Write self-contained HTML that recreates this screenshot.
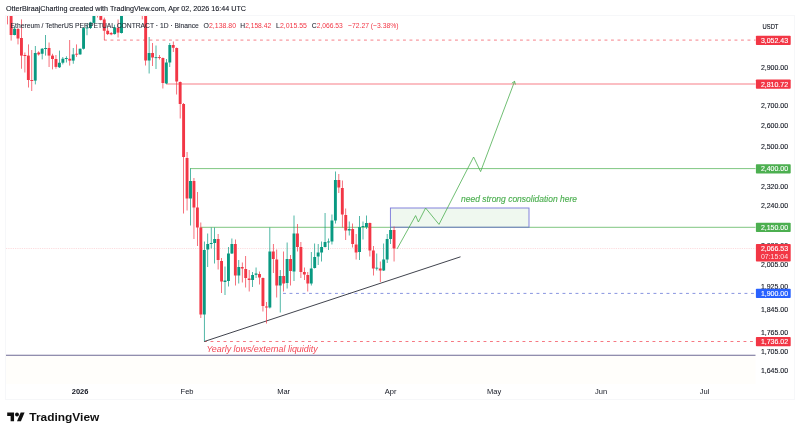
<!DOCTYPE html>
<html><head><meta charset="utf-8"><title>ETHUSDT chart</title>
<style>
html,body{margin:0;padding:0;background:#fff;}
body{width:800px;height:435px;overflow:hidden;font-family:"Liberation Sans",sans-serif;}
svg{display:block;will-change:transform;}
text{font-family:"Liberation Sans",sans-serif;}
</style></head><body>
<svg width="800" height="435" viewBox="0 0 800 435">
<defs><clipPath id="pane"><rect x="6" y="16" width="749.5" height="368"/></clipPath></defs>
<rect x="0" y="0" width="800" height="435" fill="#ffffff"/>

<rect x="5.5" y="15.5" width="789" height="384" fill="none" stroke="#f6f7f9" stroke-width="1"/>
<rect x="6" y="355.5" width="749.5" height="28.5" fill="#fffefb"/>
<g clip-path="url(#pane)">
<line x1="104" y1="40.1" x2="756" y2="40.1" stroke="#f23645" stroke-opacity="0.7" stroke-width="0.9" stroke-dasharray="2.900 3.600"/>
<line x1="166" y1="84.0" x2="756" y2="84.0" stroke="#f23645" stroke-opacity="0.68" stroke-width="0.95"/>
<line x1="190" y1="168.6" x2="756" y2="168.6" stroke="#4caf50" stroke-opacity="0.9" stroke-width="0.8"/>
<line x1="200.5" y1="227.3" x2="756" y2="227.3" stroke="#4caf50" stroke-opacity="0.9" stroke-width="0.8"/>
<line x1="283" y1="293.4" x2="756" y2="293.4" stroke="#4d5fd0" stroke-opacity="0.8" stroke-width="0.85" stroke-dasharray="2.9 3.6"/>
<line x1="204" y1="341.5" x2="756" y2="341.5" stroke="#f23645" stroke-opacity="0.75" stroke-width="0.9" stroke-dasharray="2.900 3.600"/>
<line x1="6" y1="355.25" x2="756" y2="355.25" stroke="#6e6a94" stroke-width="1"/>
<line x1="6" y1="248.5" x2="756" y2="248.5" stroke="#f23645" stroke-opacity="0.35" stroke-width="0.6" stroke-dasharray="0.8 1"/>
<rect x="390.4" y="208" width="138.6" height="19.2" fill="#4caf50" fill-opacity="0.09" stroke="#6a68d6" stroke-opacity="0.9" stroke-width="0.9"/>
<line x1="204.3" y1="341.5" x2="460.5" y2="256.8" stroke="#2a2e39" stroke-width="0.9"/>
<rect x="7.30" y="8" width="0.7" height="16.40" fill="#f23645"/>
<rect x="6.20" y="8" width="2.9" height="1.00" fill="#f23645"/>
<rect x="10.75" y="8" width="0.7" height="32.60" fill="#f23645"/>
<rect x="9.65" y="8" width="2.9" height="27.00" fill="#f23645"/>
<rect x="14.20" y="26" width="0.7" height="9.30" fill="#089981"/>
<rect x="13.10" y="28.75" width="2.9" height="6.25" fill="#089981"/>
<rect x="17.65" y="28" width="0.7" height="16.40" fill="#f23645"/>
<rect x="16.55" y="29" width="2.9" height="9.50" fill="#f23645"/>
<rect x="21.10" y="19.4" width="0.7" height="49.35" fill="#f23645"/>
<rect x="20.00" y="38" width="2.9" height="17.60" fill="#f23645"/>
<rect x="24.55" y="52.5" width="0.7" height="20.00" fill="#f23645"/>
<rect x="23.45" y="55" width="2.9" height="1.00" fill="#f23645"/>
<rect x="28.00" y="44.4" width="0.7" height="43.10" fill="#f23645"/>
<rect x="26.90" y="55.6" width="2.9" height="24.40" fill="#f23645"/>
<rect x="31.45" y="50" width="0.7" height="41.00" fill="#f23645"/>
<rect x="30.35" y="80" width="2.9" height="1.00" fill="#f23645"/>
<rect x="34.90" y="46" width="0.7" height="38.40" fill="#089981"/>
<rect x="33.80" y="53" width="2.9" height="27.60" fill="#089981"/>
<rect x="38.35" y="51.25" width="0.7" height="4.35" fill="#f23645"/>
<rect x="37.25" y="52.5" width="2.9" height="1.90" fill="#f23645"/>
<rect x="41.80" y="48" width="0.7" height="11.40" fill="#089981"/>
<rect x="40.70" y="48.75" width="2.9" height="5.00" fill="#089981"/>
<rect x="45.25" y="35" width="0.7" height="20.60" fill="#089981"/>
<rect x="44.15" y="48" width="2.9" height="1.00" fill="#089981"/>
<rect x="48.70" y="42.5" width="0.7" height="24.50" fill="#f23645"/>
<rect x="47.60" y="48" width="2.9" height="7.60" fill="#f23645"/>
<rect x="52.15" y="53.75" width="0.7" height="15.65" fill="#f23645"/>
<rect x="51.05" y="55.6" width="2.9" height="3.40" fill="#f23645"/>
<rect x="55.60" y="55" width="0.7" height="13.75" fill="#f23645"/>
<rect x="54.50" y="59" width="2.9" height="7.90" fill="#f23645"/>
<rect x="59.05" y="50.6" width="0.7" height="17.40" fill="#089981"/>
<rect x="57.95" y="62.75" width="2.9" height="4.50" fill="#089981"/>
<rect x="62.50" y="57" width="0.7" height="7.40" fill="#089981"/>
<rect x="61.40" y="58.75" width="2.9" height="4.00" fill="#089981"/>
<rect x="65.95" y="56.25" width="0.7" height="6.25" fill="#089981"/>
<rect x="64.85" y="58" width="2.9" height="1.00" fill="#089981"/>
<rect x="69.40" y="40" width="0.7" height="25.60" fill="#f23645"/>
<rect x="68.30" y="58.75" width="2.9" height="1.85" fill="#f23645"/>
<rect x="72.85" y="48" width="0.7" height="15.75" fill="#089981"/>
<rect x="71.75" y="54.4" width="2.9" height="6.20" fill="#089981"/>
<rect x="76.30" y="44.4" width="0.7" height="12.50" fill="#f23645"/>
<rect x="75.20" y="53.75" width="2.9" height="0.90" fill="#f23645"/>
<rect x="79.75" y="48.5" width="0.7" height="6.25" fill="#089981"/>
<rect x="78.65" y="48.75" width="2.9" height="5.65" fill="#089981"/>
<rect x="83.20" y="27" width="0.7" height="22.50" fill="#089981"/>
<rect x="82.10" y="28.1" width="2.9" height="20.65" fill="#089981"/>
<rect x="86.65" y="24" width="0.7" height="11.25" fill="#089981"/>
<rect x="85.55" y="27.5" width="2.9" height="0.90" fill="#089981"/>
<rect x="90.10" y="21.75" width="0.7" height="7.25" fill="#089981"/>
<rect x="89.00" y="22.5" width="2.9" height="5.50" fill="#089981"/>
<rect x="93.55" y="8" width="0.7" height="15.50" fill="#089981"/>
<rect x="92.45" y="8" width="2.9" height="14.90" fill="#089981"/>
<rect x="97.00" y="8" width="0.7" height="9.50" fill="#f23645"/>
<rect x="95.90" y="8" width="2.9" height="1.00" fill="#f23645"/>
<rect x="100.45" y="8" width="0.7" height="12.50" fill="#f23645"/>
<rect x="99.35" y="8" width="2.9" height="11.90" fill="#f23645"/>
<rect x="103.90" y="17.6" width="0.7" height="22.50" fill="#f23645"/>
<rect x="102.80" y="19.5" width="2.9" height="11.25" fill="#f23645"/>
<rect x="107.35" y="28" width="0.7" height="7.00" fill="#f23645"/>
<rect x="106.25" y="30.75" width="2.9" height="3.35" fill="#f23645"/>
<rect x="110.80" y="32" width="0.7" height="3.25" fill="#f23645"/>
<rect x="109.70" y="33" width="2.9" height="1.40" fill="#f23645"/>
<rect x="114.25" y="24.75" width="0.7" height="9.75" fill="#089981"/>
<rect x="113.15" y="27.4" width="2.9" height="6.70" fill="#089981"/>
<rect x="117.70" y="19.5" width="0.7" height="18.00" fill="#f23645"/>
<rect x="116.60" y="27.75" width="2.9" height="4.85" fill="#f23645"/>
<rect x="121.15" y="8" width="0.7" height="25.50" fill="#089981"/>
<rect x="120.05" y="8" width="2.9" height="25.00" fill="#089981"/>
<rect x="141.85" y="8" width="0.7" height="11.40" fill="#f23645"/>
<rect x="140.75" y="8" width="2.9" height="1.00" fill="#f23645"/>
<rect x="145.30" y="8" width="0.7" height="57.50" fill="#f23645"/>
<rect x="144.20" y="8" width="2.9" height="52.50" fill="#f23645"/>
<rect x="148.75" y="37" width="0.7" height="36.50" fill="#089981"/>
<rect x="147.65" y="53" width="2.9" height="7.50" fill="#089981"/>
<rect x="152.20" y="43" width="0.7" height="23.00" fill="#f23645"/>
<rect x="151.10" y="53" width="2.9" height="4.50" fill="#f23645"/>
<rect x="155.65" y="45.5" width="0.7" height="23.50" fill="#089981"/>
<rect x="154.55" y="57.2" width="2.9" height="0.90" fill="#089981"/>
<rect x="159.10" y="55" width="0.7" height="4.50" fill="#f23645"/>
<rect x="158.00" y="57" width="2.9" height="0.90" fill="#f23645"/>
<rect x="162.55" y="57.5" width="0.7" height="31.00" fill="#f23645"/>
<rect x="161.45" y="58" width="2.9" height="25.00" fill="#f23645"/>
<rect x="166.00" y="59" width="0.7" height="25.00" fill="#089981"/>
<rect x="164.90" y="62.5" width="2.9" height="21.00" fill="#089981"/>
<rect x="169.45" y="43" width="0.7" height="24.00" fill="#089981"/>
<rect x="168.35" y="45" width="2.9" height="17.50" fill="#089981"/>
<rect x="172.90" y="41.5" width="0.7" height="10.50" fill="#f23645"/>
<rect x="171.80" y="45" width="2.9" height="2.80" fill="#f23645"/>
<rect x="176.35" y="47.5" width="0.7" height="47.00" fill="#f23645"/>
<rect x="175.25" y="48" width="2.9" height="33.50" fill="#f23645"/>
<rect x="179.80" y="81.5" width="0.7" height="37.00" fill="#f23645"/>
<rect x="178.70" y="82" width="2.9" height="22.00" fill="#f23645"/>
<rect x="183.25" y="103" width="0.7" height="110.50" fill="#f23645"/>
<rect x="182.15" y="104" width="2.9" height="53.00" fill="#f23645"/>
<rect x="186.70" y="152" width="0.7" height="58.50" fill="#f23645"/>
<rect x="185.60" y="158" width="2.9" height="40.50" fill="#f23645"/>
<rect x="190.15" y="168.5" width="0.7" height="57.00" fill="#089981"/>
<rect x="189.05" y="181" width="2.9" height="17.50" fill="#089981"/>
<rect x="193.60" y="178" width="0.7" height="61.00" fill="#f23645"/>
<rect x="192.50" y="181" width="2.9" height="26.50" fill="#f23645"/>
<rect x="197.05" y="192" width="0.7" height="54.00" fill="#f23645"/>
<rect x="195.95" y="207.5" width="2.9" height="20.00" fill="#f23645"/>
<rect x="200.50" y="222.5" width="0.7" height="95.50" fill="#f23645"/>
<rect x="199.40" y="227.5" width="2.9" height="87.00" fill="#f23645"/>
<rect x="203.95" y="241.5" width="0.7" height="100.00" fill="#089981"/>
<rect x="202.85" y="250" width="2.9" height="64.50" fill="#089981"/>
<rect x="207.40" y="233.5" width="0.7" height="33.50" fill="#089981"/>
<rect x="206.30" y="244" width="2.9" height="5.50" fill="#089981"/>
<rect x="210.85" y="227.5" width="0.7" height="21.00" fill="#089981"/>
<rect x="209.75" y="243" width="2.9" height="1.00" fill="#089981"/>
<rect x="214.30" y="227.5" width="0.7" height="36.00" fill="#089981"/>
<rect x="213.20" y="239" width="2.9" height="4.00" fill="#089981"/>
<rect x="217.75" y="234" width="0.7" height="35.50" fill="#f23645"/>
<rect x="216.65" y="239" width="2.9" height="21.00" fill="#f23645"/>
<rect x="221.20" y="258" width="0.7" height="35.00" fill="#f23645"/>
<rect x="220.10" y="261" width="2.9" height="20.50" fill="#f23645"/>
<rect x="224.65" y="266.5" width="0.7" height="28.50" fill="#089981"/>
<rect x="223.55" y="280.5" width="2.9" height="1.50" fill="#089981"/>
<rect x="228.10" y="247" width="0.7" height="39.50" fill="#089981"/>
<rect x="227.00" y="253.5" width="2.9" height="27.50" fill="#089981"/>
<rect x="231.55" y="238.5" width="0.7" height="15.50" fill="#089981"/>
<rect x="230.45" y="244" width="2.9" height="9.50" fill="#089981"/>
<rect x="235.00" y="239.5" width="0.7" height="46.00" fill="#f23645"/>
<rect x="233.90" y="244" width="2.9" height="31.50" fill="#f23645"/>
<rect x="238.45" y="260" width="0.7" height="23.50" fill="#089981"/>
<rect x="237.35" y="267" width="2.9" height="8.50" fill="#089981"/>
<rect x="241.90" y="262.5" width="0.7" height="20.00" fill="#f23645"/>
<rect x="240.80" y="267" width="2.9" height="1.50" fill="#f23645"/>
<rect x="245.35" y="256" width="0.7" height="31.50" fill="#f23645"/>
<rect x="244.25" y="269" width="2.9" height="9.00" fill="#f23645"/>
<rect x="248.80" y="270" width="0.7" height="21.50" fill="#f23645"/>
<rect x="247.70" y="278.5" width="2.9" height="1.50" fill="#f23645"/>
<rect x="252.25" y="272" width="0.7" height="15.00" fill="#089981"/>
<rect x="251.15" y="275" width="2.9" height="5.00" fill="#089981"/>
<rect x="255.70" y="267.5" width="0.7" height="10.50" fill="#089981"/>
<rect x="254.60" y="273.5" width="2.9" height="1.30" fill="#089981"/>
<rect x="259.15" y="271.5" width="0.7" height="13.00" fill="#f23645"/>
<rect x="258.05" y="274" width="2.9" height="3.50" fill="#f23645"/>
<rect x="262.60" y="277.5" width="0.7" height="34.00" fill="#f23645"/>
<rect x="261.50" y="278" width="2.9" height="28.00" fill="#f23645"/>
<rect x="266.05" y="302" width="0.7" height="21.50" fill="#f23645"/>
<rect x="264.95" y="306.5" width="2.9" height="1.00" fill="#f23645"/>
<rect x="269.50" y="227.5" width="0.7" height="81.00" fill="#089981"/>
<rect x="268.40" y="251.5" width="2.9" height="56.00" fill="#089981"/>
<rect x="272.95" y="244" width="0.7" height="29.00" fill="#f23645"/>
<rect x="271.85" y="251.5" width="2.9" height="7.50" fill="#f23645"/>
<rect x="276.40" y="249.5" width="0.7" height="48.00" fill="#f23645"/>
<rect x="275.30" y="259.5" width="2.9" height="26.00" fill="#f23645"/>
<rect x="279.85" y="270" width="0.7" height="42.50" fill="#089981"/>
<rect x="278.75" y="276" width="2.9" height="9.50" fill="#089981"/>
<rect x="283.30" y="251.5" width="0.7" height="40.00" fill="#f23645"/>
<rect x="282.20" y="276" width="2.9" height="7.50" fill="#f23645"/>
<rect x="286.75" y="242.5" width="0.7" height="46.00" fill="#089981"/>
<rect x="285.65" y="259" width="2.9" height="24.00" fill="#089981"/>
<rect x="290.20" y="255" width="0.7" height="30.50" fill="#f23645"/>
<rect x="289.10" y="259" width="2.9" height="12.00" fill="#f23645"/>
<rect x="293.65" y="215.5" width="0.7" height="65.50" fill="#089981"/>
<rect x="292.55" y="233.5" width="2.9" height="38.00" fill="#089981"/>
<rect x="297.10" y="224" width="0.7" height="27.50" fill="#f23645"/>
<rect x="296.00" y="233.5" width="2.9" height="13.50" fill="#f23645"/>
<rect x="300.55" y="242" width="0.7" height="36.00" fill="#f23645"/>
<rect x="299.45" y="247" width="2.9" height="25.00" fill="#f23645"/>
<rect x="304.00" y="267.5" width="0.7" height="12.50" fill="#f23645"/>
<rect x="302.90" y="272" width="2.9" height="2.50" fill="#f23645"/>
<rect x="307.45" y="272" width="0.7" height="19.50" fill="#f23645"/>
<rect x="306.35" y="275" width="2.9" height="8.50" fill="#f23645"/>
<rect x="310.90" y="252" width="0.7" height="33.50" fill="#089981"/>
<rect x="309.80" y="268.5" width="2.9" height="15.00" fill="#089981"/>
<rect x="314.35" y="243.5" width="0.7" height="25.00" fill="#089981"/>
<rect x="313.25" y="257" width="2.9" height="11.00" fill="#089981"/>
<rect x="317.80" y="244" width="0.7" height="21.00" fill="#089981"/>
<rect x="316.70" y="252.5" width="2.9" height="4.00" fill="#089981"/>
<rect x="321.25" y="241.5" width="0.7" height="20.00" fill="#089981"/>
<rect x="320.15" y="247" width="2.9" height="5.50" fill="#089981"/>
<rect x="324.70" y="213" width="0.7" height="34.50" fill="#089981"/>
<rect x="323.60" y="242" width="2.9" height="5.00" fill="#089981"/>
<rect x="328.15" y="238.5" width="0.7" height="11.50" fill="#089981"/>
<rect x="327.05" y="241.5" width="2.9" height="0.90" fill="#089981"/>
<rect x="331.60" y="214.5" width="0.7" height="30.00" fill="#089981"/>
<rect x="330.50" y="220.5" width="2.9" height="21.00" fill="#089981"/>
<rect x="335.05" y="171.5" width="0.7" height="52.00" fill="#089981"/>
<rect x="333.95" y="180" width="2.9" height="40.50" fill="#089981"/>
<rect x="338.50" y="174" width="0.7" height="19.00" fill="#f23645"/>
<rect x="337.40" y="180" width="2.9" height="7.50" fill="#f23645"/>
<rect x="341.95" y="180.5" width="0.7" height="47.00" fill="#f23645"/>
<rect x="340.85" y="188" width="2.9" height="26.50" fill="#f23645"/>
<rect x="345.40" y="208.5" width="0.7" height="31.50" fill="#f23645"/>
<rect x="344.30" y="215" width="2.9" height="15.50" fill="#f23645"/>
<rect x="348.85" y="221.5" width="0.7" height="14.00" fill="#089981"/>
<rect x="347.75" y="229" width="2.9" height="1.50" fill="#089981"/>
<rect x="352.30" y="223.5" width="0.7" height="24.00" fill="#f23645"/>
<rect x="351.20" y="229" width="2.9" height="15.00" fill="#f23645"/>
<rect x="355.75" y="234" width="0.7" height="25.50" fill="#f23645"/>
<rect x="354.65" y="244.5" width="2.9" height="8.00" fill="#f23645"/>
<rect x="359.20" y="216" width="0.7" height="44.00" fill="#089981"/>
<rect x="358.10" y="227" width="2.9" height="25.00" fill="#089981"/>
<rect x="362.65" y="221.5" width="0.7" height="18.00" fill="#089981"/>
<rect x="361.55" y="226" width="2.9" height="1.00" fill="#089981"/>
<rect x="366.10" y="215.5" width="0.7" height="13.50" fill="#089981"/>
<rect x="365.00" y="223" width="2.9" height="4.00" fill="#089981"/>
<rect x="369.55" y="222.5" width="0.7" height="34.00" fill="#f23645"/>
<rect x="368.45" y="223" width="2.9" height="27.50" fill="#f23645"/>
<rect x="373.00" y="246" width="0.7" height="29.50" fill="#f23645"/>
<rect x="371.90" y="250.5" width="2.9" height="18.00" fill="#f23645"/>
<rect x="376.45" y="253.5" width="0.7" height="17.00" fill="#089981"/>
<rect x="375.35" y="267.7" width="2.9" height="0.90" fill="#089981"/>
<rect x="379.90" y="261.5" width="0.7" height="20.50" fill="#f23645"/>
<rect x="378.80" y="268.5" width="2.9" height="2.00" fill="#f23645"/>
<rect x="383.35" y="243.5" width="0.7" height="27.50" fill="#089981"/>
<rect x="382.25" y="259.5" width="2.9" height="11.00" fill="#089981"/>
<rect x="386.80" y="234" width="0.7" height="29.00" fill="#089981"/>
<rect x="385.70" y="239" width="2.9" height="20.50" fill="#089981"/>
<rect x="390.25" y="227.5" width="0.7" height="16.50" fill="#089981"/>
<rect x="389.15" y="230" width="2.9" height="9.00" fill="#089981"/>
<rect x="393.70" y="226.5" width="0.7" height="35.00" fill="#f23645"/>
<rect x="392.60" y="230" width="2.9" height="18.50" fill="#f23645"/>
<polyline fill="none" stroke="#4caf50" stroke-width="0.8" stroke-linejoin="miter" points="397,249 415.6,215.6 418.4,222 425.6,208 439,224.4 473.6,157 480.6,171.6 514.6,81.3"/>
<polyline fill="none" stroke="#4caf50" stroke-width="0.8" points="511.8,83.2 514.6,81.3 515.4,84.6"/>
</g>
<text x="461" y="201.8" font-size="9" font-style="italic" fill="#4caf50" stroke="#4caf50" stroke-width="0.15" textLength="116" lengthAdjust="spacingAndGlyphs">need strong consolidation here</text>
<text x="206.4" y="351.5" font-size="8.3" font-style="italic" fill="#f23645" fill-opacity="0.92" textLength="111.2" lengthAdjust="spacingAndGlyphs">Yearly lows/external liquidity</text>
<text x="6" y="11.4" font-size="7.9" fill="#131722" stroke="#131722" stroke-width="0.12" textLength="240" lengthAdjust="spacingAndGlyphs">OtterBiraajCharting created with TradingView.com, Apr 02, 2026 16:44 UTC</text>
<text x="10.6" y="27.6" font-size="7.8" fill="#2a2e39" stroke="#2a2e39" stroke-width="0.1" textLength="188.2" lengthAdjust="spacingAndGlyphs">Ethereum / TetherUS PERPETUAL CONTRACT · 1D · Binance</text>
<text x="203.6" y="27.6" font-size="7.8" fill="#2a2e39" stroke="#2a2e39" stroke-width="0.1" textLength="32.4" lengthAdjust="spacingAndGlyphs">O<tspan fill="#f23645" stroke="none">2,138.80</tspan></text>
<text x="240.3" y="27.6" font-size="7.8" fill="#2a2e39" stroke="#2a2e39" stroke-width="0.1" textLength="30.8" lengthAdjust="spacingAndGlyphs">H<tspan fill="#f23645" stroke="none">2,158.42</tspan></text>
<text x="276" y="27.6" font-size="7.8" fill="#2a2e39" stroke="#2a2e39" stroke-width="0.1" textLength="31" lengthAdjust="spacingAndGlyphs">L<tspan fill="#f23645" stroke="none">2,015.55</tspan></text>
<text x="311.8" y="27.6" font-size="7.8" fill="#2a2e39" stroke="#2a2e39" stroke-width="0.1" textLength="31" lengthAdjust="spacingAndGlyphs">C<tspan fill="#f23645" stroke="none">2,066.53</tspan></text>
<text x="348" y="27.6" font-size="7.8" fill="#f23645" textLength="50.6" lengthAdjust="spacingAndGlyphs">−72.27 (−3.38%)</text>
<text x="770.5" y="28.8" font-size="7.5" fill="#131722" stroke="#131722" stroke-width="0.15" text-anchor="middle" textLength="15.8" lengthAdjust="spacingAndGlyphs">USDT</text>
<text x="760.9" y="70.10" font-size="7.1" fill="#131722" stroke="#131722" stroke-width="0.12" textLength="27.2" lengthAdjust="spacingAndGlyphs">2,900.00</text>
<text x="760.9" y="108.25" font-size="7.1" fill="#131722" stroke="#131722" stroke-width="0.12" textLength="27.2" lengthAdjust="spacingAndGlyphs">2,700.00</text>
<text x="760.9" y="128.40" font-size="7.1" fill="#131722" stroke="#131722" stroke-width="0.12" textLength="27.2" lengthAdjust="spacingAndGlyphs">2,600.00</text>
<text x="760.9" y="149.34" font-size="7.1" fill="#131722" stroke="#131722" stroke-width="0.12" textLength="27.2" lengthAdjust="spacingAndGlyphs">2,500.00</text>
<text x="760.9" y="189.24" font-size="7.1" fill="#131722" stroke="#131722" stroke-width="0.12" textLength="27.2" lengthAdjust="spacingAndGlyphs">2,320.00</text>
<text x="760.9" y="207.97" font-size="7.1" fill="#131722" stroke="#131722" stroke-width="0.12" textLength="27.2" lengthAdjust="spacingAndGlyphs">2,240.00</text>
<text x="760.9" y="247.54" font-size="7.1" fill="#131722" stroke="#131722" stroke-width="0.12" textLength="27.2" lengthAdjust="spacingAndGlyphs">2,080.00</text>
<text x="760.9" y="267.14" font-size="7.1" fill="#131722" stroke="#131722" stroke-width="0.12" textLength="27.2" lengthAdjust="spacingAndGlyphs">2,005.00</text>
<text x="760.9" y="288.88" font-size="7.1" fill="#131722" stroke="#131722" stroke-width="0.12" textLength="27.2" lengthAdjust="spacingAndGlyphs">1,925.00</text>
<text x="760.9" y="311.55" font-size="7.1" fill="#131722" stroke="#131722" stroke-width="0.12" textLength="27.2" lengthAdjust="spacingAndGlyphs">1,845.00</text>
<text x="760.9" y="335.21" font-size="7.1" fill="#131722" stroke="#131722" stroke-width="0.12" textLength="27.2" lengthAdjust="spacingAndGlyphs">1,765.00</text>
<text x="760.9" y="353.68" font-size="7.1" fill="#131722" stroke="#131722" stroke-width="0.12" textLength="27.2" lengthAdjust="spacingAndGlyphs">1,705.00</text>
<text x="760.9" y="372.81" font-size="7.1" fill="#131722" stroke="#131722" stroke-width="0.12" textLength="27.2" lengthAdjust="spacingAndGlyphs">1,645.00</text>
<rect x="755.9" y="35.65" width="34.8" height="9.3" rx="0.8" fill="#f23645"/>
<text x="760.9" y="42.85" font-size="7.1" fill="#ffffff" stroke="#ffffff" stroke-width="0.12" textLength="27.2" lengthAdjust="spacingAndGlyphs">3,052.43</text>
<rect x="755.9" y="79.50" width="34.8" height="9.3" rx="0.8" fill="#f23645"/>
<text x="760.9" y="86.70" font-size="7.1" fill="#ffffff" stroke="#ffffff" stroke-width="0.12" textLength="27.2" lengthAdjust="spacingAndGlyphs">2,810.72</text>
<rect x="755.9" y="164.15" width="34.8" height="9.3" rx="0.8" fill="#4caf50"/>
<text x="760.9" y="171.35" font-size="7.1" fill="#ffffff" stroke="#ffffff" stroke-width="0.12" textLength="27.2" lengthAdjust="spacingAndGlyphs">2,400.00</text>
<rect x="755.9" y="222.75" width="34.8" height="9.3" rx="0.8" fill="#4caf50"/>
<text x="760.9" y="229.95" font-size="7.1" fill="#ffffff" stroke="#ffffff" stroke-width="0.12" textLength="27.2" lengthAdjust="spacingAndGlyphs">2,150.00</text>
<rect x="755.9" y="288.65" width="34.8" height="9.3" rx="0.8" fill="#2962ff"/>
<text x="760.9" y="295.85" font-size="7.1" fill="#ffffff" stroke="#ffffff" stroke-width="0.12" textLength="27.2" lengthAdjust="spacingAndGlyphs">1,900.00</text>
<rect x="755.9" y="336.95" width="34.8" height="9.3" rx="0.8" fill="#f23645"/>
<text x="760.9" y="344.15" font-size="7.1" fill="#ffffff" stroke="#ffffff" stroke-width="0.12" textLength="27.2" lengthAdjust="spacingAndGlyphs">1,736.02</text>
<rect x="755.9" y="244" width="34.8" height="17.5" rx="0.8" fill="#f23645"/>
<text x="760.9" y="251.3" font-size="7.1" fill="#ffffff" stroke="#ffffff" stroke-width="0.12" textLength="27.2" lengthAdjust="spacingAndGlyphs">2,066.53</text>
<text x="760.9" y="259.4" font-size="7" fill="#ffffff" fill-opacity="0.85" textLength="27.2" lengthAdjust="spacingAndGlyphs">07:15:04</text>
<text x="80.10" y="394.2" font-size="7.5" fill="#131722" text-anchor="middle" font-weight="bold">2026</text>
<text x="187.05" y="394.2" font-size="7.5" fill="#131722" text-anchor="middle">Feb</text>
<text x="283.65" y="394.2" font-size="7.5" fill="#131722" text-anchor="middle">Mar</text>
<text x="390.60" y="394.2" font-size="7.5" fill="#131722" text-anchor="middle">Apr</text>
<text x="494.10" y="394.2" font-size="7.5" fill="#131722" text-anchor="middle">May</text>
<text x="601.05" y="394.2" font-size="7.5" fill="#131722" text-anchor="middle">Jun</text>
<text x="704.55" y="394.2" font-size="7.5" fill="#131722" text-anchor="middle">Jul</text>
<g transform="translate(7.2,410.54) scale(0.49)" fill="#101010"><path d="M14 22H7V11H0V4h14v18zM28 22h-8l7.5-18h8L28 22z"/><circle cx="20" cy="8" r="4"/></g>
<text x="29.3" y="420.8" font-size="11.4" font-weight="bold" fill="#101010" textLength="70" lengthAdjust="spacingAndGlyphs">TradingView</text>
</svg></body></html>
